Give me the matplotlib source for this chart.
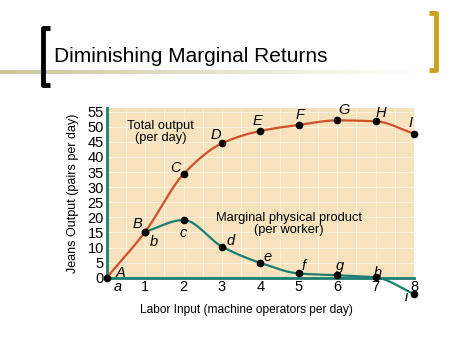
import numpy as np
import matplotlib
matplotlib.use("Agg")
import matplotlib.pyplot as plt
from matplotlib.colors import LinearSegmentedColormap

# ---- data ----
labor = [0, 1, 2, 3, 4, 5, 6, 7, 8]
total_output = [0, 15.2, 34.3, 44.5, 48.6, 50.6, 52.1, 51.8, 47.7]
total_labels = ["A", "B", "C", "D", "E", "F", "G", "H", "I"]
mpp_x = [1, 2, 3, 4, 5, 6, 7, 8]
mpp = [15.2, 19.1, 10.3, 4.9, 1.4, 0.8, 0.1, -5.4]
mpp_labels = ["b", "c", "d", "e", "f", "g", "h", "i"]
x_ticks = [1, 2, 3, 4, 5, 6, 7, 8]
y_ticks = [0, 5, 10, 15, 20, 25, 30, 35, 40, 45, 50, 55]

# label offsets (data units) for point letters
total_off = [(0.37, 1.5), (-0.19, 2.5), (-0.2, 2.1), (-0.15, 2.8), (-0.07, 3.3),
             (0.03, 3.3), (0.18, 3.5), (0.14, 2.7), (-0.08, 3.5)]
mpp_off = [(0.23, -3.3), (-0.01, -4.4), (0.22, 1.7), (0.18, 2.1), (0.12, 2.6),
           (0.08, 3.2), (0.06, 1.4), (-0.19, -0.9)]

TOTAL_C = "#D0502A"
MPP_C = "#1C7D72"
BG = "#F6E2BC"


def pchip(xs, ys, n=40):
    xs = np.asarray(xs, float)
    ys = np.asarray(ys, float)
    h = np.diff(xs)
    d = np.diff(ys) / h
    m = np.zeros_like(ys)
    m[0], m[-1] = d[0], d[-1]
    for k in range(1, len(xs) - 1):
        if d[k - 1] * d[k] <= 0:
            m[k] = 0.0
        else:
            w1 = 2 * h[k] + h[k - 1]
            w2 = h[k] + 2 * h[k - 1]
            m[k] = (w1 + w2) / (w1 / d[k - 1] + w2 / d[k])
    ox, oy = [], []
    for k in range(len(xs) - 1):
        t = np.linspace(0, 1, n, endpoint=False)
        h00 = 2 * t ** 3 - 3 * t ** 2 + 1
        h10 = t ** 3 - 2 * t ** 2 + t
        h01 = -2 * t ** 3 + 3 * t ** 2
        h11 = t ** 3 - t ** 2
        ox.extend(xs[k] + t * h[k])
        oy.extend(h00 * ys[k] + h10 * h[k] * m[k] + h01 * ys[k + 1] + h11 * h[k] * m[k + 1])
    ox.append(xs[-1]); oy.append(ys[-1])
    return np.array(ox), np.array(oy)


fig = plt.figure(figsize=(4.74, 3.55), dpi=100)
fig.patch.set_facecolor("white")

# ---- slide decorations ----
deco = fig.add_axes([0, 0, 1, 1])
deco.set_xlim(0, 474)
deco.set_ylim(355, 0)
deco.axis("off")
grad = np.linspace(1, 0, 256).reshape(1, -1)
cmap = LinearSegmentedColormap.from_list("g", ["#FFFFFF", "#C8C89A"])
deco.imshow(grad, extent=(0, 420, 74, 70), cmap=cmap, aspect="auto", vmin=0, vmax=1)
deco.plot([50, 43, 43, 50], [28, 28, 85, 85], color="black", lw=3.5, solid_capstyle="butt")
deco.plot([429, 436, 436, 429], [13, 13, 70, 70], color="#C9A21F", lw=3.5, solid_capstyle="butt")
deco.text(54, 56, "Diminishing Marginal Returns", fontsize=15, family="Liberation Sans",
          va="center", ha="left", color="black")
deco.text(246, 310, "Labor Input (machine operators per day)", family="Liberation Sans",
          fontsize=8.6, ha="center", va="center")

# ---- chart ----
ax = fig.add_axes([106.7 / 474, 1 - 277.7 / 355, (414 - 106.7) / 474, 169.7 / 355])
ax.set_facecolor(BG)
ax.set_xlim(0, 8)
ax.set_ylim(0, 56.2)
for yv in range(5, 56, 5):
    ax.axhline(yv, color="#FBF1DE", lw=0.8, zorder=0)
for xv in np.arange(0.5, 8, 0.5):
    ax.axvline(xv, color="#FBF1DE", lw=0.8, zorder=0)

tx, ty = pchip(labor, total_output)
ax.plot(tx, ty, color=TOTAL_C, lw=1.6, zorder=3, clip_on=False)
mx, my = pchip(mpp_x, mpp)
ax.plot(mx, my, color=MPP_C, lw=1.6, zorder=3, clip_on=False)
ax.plot(labor, total_output, "o", color="black", ms=4.5, zorder=5, clip_on=False)
ax.plot(mpp_x, mpp, "o", color="black", ms=4.5, zorder=5, clip_on=False)

tfont = dict(family="Liberation Sans", fontsize=10.5, style="italic", color="black",
             ha="center", va="center", zorder=7)
for x, y, lab, (dx, dy) in zip(labor, total_output, total_labels, total_off):
    ax.text(x + dx, y + dy, lab, clip_on=False, **tfont)
for x, y, lab, (dx, dy) in zip(mpp_x, mpp, mpp_labels, mpp_off):
    ax.text(x + dx, y + dy, lab, clip_on=False, **tfont)
ax.text(0.3, -3.2, "a", clip_on=False, **tfont)

ax.text(1.40, 48.2, "Total output\n(per day)", family="Liberation Sans", fontsize=9.3,
        ha="center", va="center", linespacing=1.0)
ax.text(4.75, 17.8, "Marginal physical product\n(per worker)", family="Liberation Sans",
        fontsize=9.3, ha="center", va="center", linespacing=1.0)

ax.set_xticks(x_ticks)
ax.set_xticklabels([str(v) for v in x_ticks], family="Liberation Sans", fontsize=10.5)
ax.set_yticks(y_ticks)
ax.set_yticklabels([str(v) for v in y_ticks], family="Liberation Sans", fontsize=10.5)
ax.tick_params(length=0, pad=2)
for s in ["top", "right"]:
    ax.spines[s].set_visible(False)
for s in ["left", "bottom"]:
    ax.spines[s].set_color(MPP_C)
    ax.spines[s].set_linewidth(2)
ax.set_ylabel("Jeans Output (pairs per day)", family="Liberation Sans", fontsize=9, labelpad=6)

fig.savefig("out.png", dpi=100)
